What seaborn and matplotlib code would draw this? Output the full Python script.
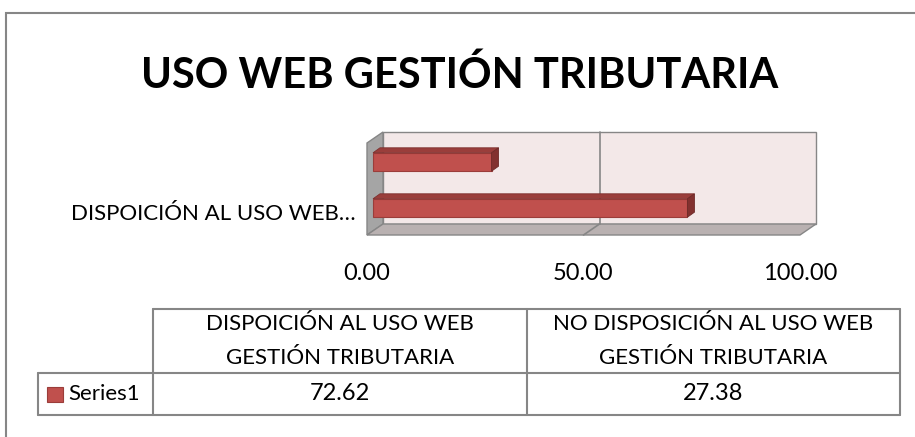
import numpy as np
import seaborn as sns
import matplotlib.pyplot as plt
from matplotlib.patches import Polygon, Rectangle
from matplotlib.transforms import Affine2D, IdentityTransform
from matplotlib.ticker import StrMethodFormatter

sns.set_style('white')
plt.rcParams['font.family'] = ['Lato', 'DejaVu Sans']

title = 'USO WEB GESTIÓN TRIBUTARIA'
categories = ['DISPOICIÓN AL USO WEB GESTIÓN TRIBUTARIA',
              'NO DISPOSICIÓN AL USO WEB GESTIÓN TRIBUTARIA']
values = [72.62, 27.38]
series_name = 'Series1'
tick_labels_y = ['DISPOICIÓN AL USO WEB…', '']
header_lines = [['DISPOICIÓN AL USO WEB', 'GESTIÓN TRIBUTARIA'],
                ['NO DISPOSICIÓN AL USO WEB', 'GESTIÓN TRIBUTARIA']]

W, H = 915, 437
RED = '#c0504d'
GRID = '#868686'
TXT = '#000000'

fig = plt.figure(figsize=(W / 100, H / 100), dpi=100)

def fx(px):
    return px / W

def fy(py):
    return 1 - py / H

# chart area border
fig.patches.append(Rectangle((fx(6), fy(440)), fx(920) - fx(6), fy(13) - fy(440),
                             transform=fig.transFigure, fill=False,
                             edgecolor=GRID, lw=1.5))

fig.text(fx(460), fy(88), title, ha='center', va='baseline',
         fontsize=30, fontweight='bold', color=TXT)

# plot area (front plane of the 3d box)
ax = fig.add_axes([fx(367), fy(235), fx(800) - fx(367), fy(143) - fy(235)])
ax.patch.set_alpha(0)
sns.barplot(x=values, y=categories, orient='h', color=RED, width=0.4,
            edgecolor='#9b3d3a', linewidth=0.8, saturation=1, ax=ax, zorder=3)
ax.set_xlim(0, 100)
ax.set_ylim(-0.5, 1.5)
ax.set_xticks([0, 50, 100])
ax.xaxis.set_major_formatter(StrMethodFormatter('{x:.2f}'))
ax.set_yticks([0, 1])
ax.set_yticklabels(tick_labels_y)
ax.tick_params(axis='both', length=0, labelsize=16, colors=TXT)
ax.tick_params(axis='x', pad=20, labelsize=17)
ax.tick_params(axis='y', pad=8)
ax.set_xlabel('')
ax.set_ylabel('')
for s in ax.spines.values():
    s.set_visible(False)

D = np.array([16, 11])      # depth of the box in pixels
BO = np.array([6, 4])       # bar front offset
BD = np.array([7, 5])       # bar depth

def disp(x, y, off=(0, 0)):
    return ax.transData.transform((x, y)) + np.array(off)

def poly(pts, fc, ec=GRID, z=1, lw=1.0):
    ax.add_patch(Polygon(pts, closed=True, facecolor=fc, edgecolor=ec, lw=lw,
                         transform=IdentityTransform(), clip_on=False, zorder=z))

y0, y1 = -0.5, 1.5
# back wall
poly([disp(0, y0, D), disp(100, y0, D), disp(100, y1, D), disp(0, y1, D)], '#f3e8e8', z=0.5)
# left wall
poly([disp(0, y0), disp(0, y1), disp(0, y1, D), disp(0, y0, D)], '#a5a5a5', z=0.6)
# floor
poly([disp(0, y0), disp(100, y0), disp(100, y0, D), disp(0, y0, D)], '#b9b1b1', z=0.6)
# gridline at 50
for pts in ([disp(50, y0, D), disp(50, y1, D)], [disp(50, y0), disp(50, y0, D)]):
    ax.plot(*np.array(pts).T, color=GRID, lw=1.2, transform=IdentityTransform(),
            clip_on=False, zorder=0.8)

# bars: shift the front faces into the box and add top / side faces
bars = [p for p in ax.patches if p.get_zorder() == 3]
for p in bars:
    p.set_transform(ax.transData + Affine2D().translate(*BO))
    p.set_clip_on(False)
    x0, yb, w, h = p.get_x(), p.get_y(), p.get_width(), p.get_height()
    a = disp(x0, yb, BO)
    b = disp(x0 + w, yb + h, BO)
    left, right = min(a[0], b[0]), max(a[0], b[0])
    lo, hi = min(a[1], b[1]), max(a[1], b[1])
    tl, tr, br = np.array([left, hi]), np.array([right, hi]), np.array([right, lo])
    poly([tl, tr, tr + BD, tl + BD], '#9a3e3b', ec='#7d302e', z=3.1, lw=0.6)
    poly([tr, br, br + BD, tr + BD], '#82312f', ec='#6e2a28', z=3.1, lw=0.6)

# data table
tax = fig.add_axes([0, 0, 1, 1])
tax.set_xlim(0, W)
tax.set_ylim(H, 0)
tax.axis('off')
lc = dict(color=GRID, lw=1.5)
col_x = [153, 527, 900]
tax.plot([153, 900], [309, 309], **lc)
tax.plot([38, 900], [373, 373], **lc)
tax.plot([38, 900], [415, 415], **lc)
for cx in col_x:
    tax.plot([cx, cx], [309, 415], **lc)
tax.plot([38, 38], [373, 415], **lc)

for i, lines in enumerate(header_lines):
    cx = (col_x[i] + col_x[i + 1]) / 2
    tax.text(cx, 324, lines[0], ha='center', va='center', fontsize=16, color=TXT)
    tax.text(cx, 358, lines[1], ha='center', va='center', fontsize=16, color=TXT)
    tax.text(cx, 394, f'{values[i]:.2f}', ha='center', va='center', fontsize=17, color=TXT)

tax.add_patch(Rectangle((47, 387), 16, 15, facecolor=RED, edgecolor='#9b3d3a', lw=0.8))
tax.text(68, 394, series_name, ha='left', va='center', fontsize=16, color=TXT)

fig.savefig('out.png', dpi=100)
